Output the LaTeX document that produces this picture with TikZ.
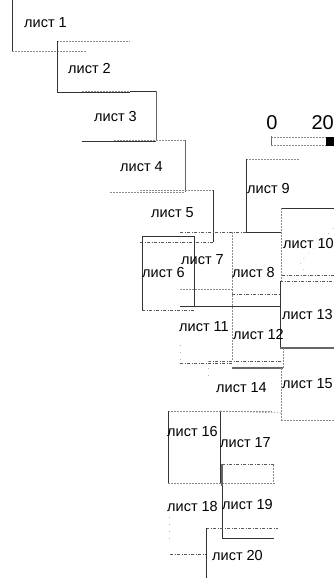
\documentclass[tikz,border=0pt]{standalone}
\usepackage{fontspec}
\setmainfont{Liberation Sans}
\usepackage{tikz}
\usetikzlibrary{positioning}
\tikzset{
    sheetname/.style={anchor=west,inner sep=0pt,font=\fontsize{14.5}{16}\selectfont,text=black},
    scalenum/.style={inner sep=0pt,font=\fontsize{20}{24}\selectfont},
    edge/.style={black!80,line width=0.8pt},
    thickedge/.style={black!60,line width=1.6pt},
    dashedge/.style={black!65,line width=0.6pt,dash pattern=on 3pt off 1.5pt on 1pt off 1.5pt},
    dotedge/.style={black!45,line width=0.6pt,dash pattern=on 1.5pt off 1.5pt},
    faintedge/.style={black!30,line width=0.6pt,dash pattern=on 1pt off 6pt}
}
\begin{document}
\begin{tikzpicture}[x=1pt,y=-1pt]
    \useasboundingbox (0,0) rectangle (334,578);
    % sheets 1-5
    \draw[edge] (12,0) --(12,51);
    \draw[dotedge] (12,51) --(86,51);
    \draw[dotedge] (57,41) --(130,41);
    \draw[edge] (57,41) --(57,92) --(130,92);
    \draw[dotedge] (82,91) --(130,91);
    \draw[edge] (130,91) --(156,91);
    \draw[thickedge,line width=1pt] (156,91) --(156,141);
    \draw[edge] (82,141) --(156,141);
    \draw[dotedge] (114,140) --(185,140);
    \draw[thickedge,line width=1pt] (185,140) --(185,192);
    \draw[dotedge] (110,192) --(185,192);
    \draw[dotedge] (140,190) --(213,190);
    \draw[edge] (213,190) --(213,242);
    \draw[dashedge] (140,242) --(213,242);
    % sheets 6-8
    \draw[edge] (142,310) --(142,236) --(194,236) --(194,306);
    \draw[dashedge] (142,310) --(194,310);
    \draw[dashedge] (180,232) --(246,232);
    \draw[dotedge] (180,289) --(232,289);
    \draw[dashedge] (232,294) --(281,294);
    \draw[edge] (180,306) --(280,306);
    \draw[dotedge] (232,232) --(232,360);
    % sheets 9,10,13
    \draw[dotedge] (246,159) --(299,159);
    \draw[edge] (246,159) --(246,232) --(282,232);
    \draw[edge] (281,208) --(334,208);
    \draw[dotedge] (281,208) --(281,232);
    \draw[dashedge] (282,275) --(334,275);
    \draw[dotedge] (281,232) --(281,281);
    \draw[faintedge] (334,228) --(300,262) --(310,282);
    \draw[dashedge] (280,281) --(334,281);
    \draw[edge] (280,281) --(280,348);
    \draw[thickedge] (280,348) --(334,348);
    % sheets 11,12,14,15
    \draw[dashedge] (180,363) --(232,363);
    \draw[faintedge] (180,345) --(180,363);
    \draw[dashedge] (208,361) --(283,361);
    \draw[thickedge,line width=1.1pt] (232,368) --(283,368);
    \draw[dotedge] (283,348) --(283,368);
    \draw[faintedge] (208,361) --(208,380);
    \draw[dotedge] (281,368) --(281,413);
    \draw[dotedge] (220,411) --(281,413);
    \draw[dotedge] (281,413) --(281,420);
    \draw[dotedge] (281,420) --(334,420);
    % sheets 16-20
    \draw[dotedge] (168,411) --(220,411);
    \draw[edge] (168,411) --(168,484);
    \draw[edge] (220,411) --(220,484);
    \draw[dotedge] (220,411) --(272,411);
    \draw[dotedge] (168,483) --(275,483);
    \draw[dotedge] (273,465) --(273,484);
    \draw[dashedge] (222,464) --(274,464);
    \draw[thickedge] (222,464) --(222,486);
    \draw[edge] (222,486) --(222,538) --(274,538);
    \draw[faintedge] (169,510) --(169,540);
    \draw[dashedge] (170,554) --(206,554);
    \draw[dashedge] (206,528) --(278,528);
    \draw[edge] (206,528) --(206,578);
    % scale
    \draw[edge,black!60] (271,136) --(271,146);
    \draw[dotedge] (271,137) --(326,137);
    \draw[dotedge] (271,145) --(326,145);
    \fill[black] (326,137) rectangle (334,146);
    \node[scalenum] (zero) at (272,123) {0};
    \node[scalenum,anchor=east] (twenty) at (334,123) {20};
    % names
    \node[sheetname] (sheet1) at (24,23) {лист 1};
    \node[sheetname] (sheet2) at (68,69) {лист 2};
    \node[sheetname] (sheet3) at (94,117) {лист 3};
    \node[sheetname] (sheet4) at (120,167) {лист 4};
    \node[sheetname] (sheet5) at (151,213) {лист 5};
    \node[sheetname] (sheet6) at (142,273) {лист 6};
    \node[sheetname] (sheet7) at (181,260) {лист 7};
    \node[sheetname] (sheet8) at (232,273) {лист 8};
    \node[sheetname] (sheet9) at (247,189) {лист 9};
    \node[sheetname] (sheet10) at (283,244) {лист 10};
    \node[sheetname] (sheet11) at (179,327) {лист 11};
    \node[sheetname] (sheet12) at (233,335) {лист 12};
    \node[sheetname] (sheet13) at (282,315) {лист 13};
    \node[sheetname] (sheet14) at (216,388) {лист 14};
    \node[sheetname] (sheet15) at (282,384) {лист 15};
    \node[sheetname] (sheet16) at (167,432) {лист 16};
    \node[sheetname] (sheet17) at (220,443) {лист 17};
    \node[sheetname] (sheet18) at (167,507) {лист 18};
    \node[sheetname] (sheet19) at (222,505) {лист 19};
    \node[sheetname] (sheet20) at (212,556) {лист 20};
\end{tikzpicture}
\end{document}
